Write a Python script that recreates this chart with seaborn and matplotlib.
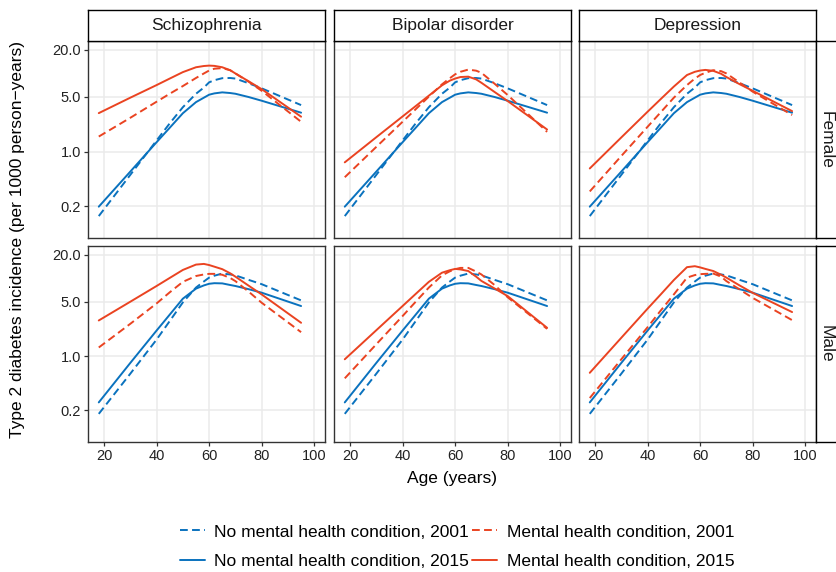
import numpy as np
import pandas as pd
import matplotlib
matplotlib.use("Agg")
import matplotlib.pyplot as plt
import seaborn as sns
from matplotlib.lines import Line2D
from matplotlib.ticker import FixedLocator, NullLocator, FixedFormatter

sns.set_theme(style="white")
plt.rcParams['font.family'] = ['Liberation Sans', 'DejaVu Sans']

# ---------------- data ----------------
ages = [18, 30, 40, 45, 50, 55, 58, 60, 62, 65, 68, 70, 75, 80, 95]
conditions = ["Schizophrenia", "Bipolar disorder", "Depression"]
sexes = ["Female", "Male"]
lab_nomh01 = "No mental health condition, 2001"
lab_nomh15 = "No mental health condition, 2015"
lab_mh01 = "Mental health condition, 2001"
lab_mh15 = "Mental health condition, 2015"

female_nomh_2001 = [0.150, 0.505, 1.39, 2.3, 3.7, 5.5, 6.6, 7.7, 8.2, 8.7, 8.75, 8.6, 7.5, 6.45, 3.94]
female_nomh_2015 = [0.198, 0.556, 1.32, 2.02, 3.1, 4.3, 4.9, 5.35, 5.56, 5.73, 5.62, 5.5, 5.0, 4.48, 3.15]
male_nomh_2001 = [0.181, 0.594, 1.63, 2.82, 4.9, 7.6, 9.1, 10.2, 10.8, 11.5, 11.2, 10.9, 9.55, 8.4, 5.2]
male_nomh_2015 = [0.254, 0.817, 2.13, 3.41, 5.47, 7.36, 8.1, 8.5, 8.65, 8.6, 8.2, 7.96, 7.25, 6.53, 4.4]

female_schiz_2001 = [1.56, 2.71, 4.35, 5.5, 6.9, 8.75, 10.0, 10.9, 11.5, 11.7, 11.0, 10.0, 7.85, 6.0, 2.41]
female_schiz_2015 = [3.11, 4.9, 7.1, 8.6, 10.4, 12.0, 12.45, 12.6, 12.5, 12.0, 11.0, 10.0, 7.95, 6.3, 2.8]
female_bip_2001 = [0.471, 1.15, 2.41, 3.49, 5.05, 7.26, 8.7, 9.75, 10.5, 11.2, 10.85, 10.2, 7.4, 5.3, 1.79]
female_bip_2015 = [0.73, 1.53, 2.82, 3.83, 5.2, 7.05, 8.1, 8.6, 9.0, 9.1, 8.4, 7.6, 5.8, 4.44, 1.92]
female_dep_2001 = [0.31, 0.88, 2.08, 3.19, 4.9, 7.1, 8.6, 9.55, 10.2, 11.0, 10.7, 10.0, 7.65, 5.85, 2.94]
female_dep_2015 = [0.61, 1.52, 3.24, 4.7, 6.8, 9.55, 10.5, 10.9, 11.1, 10.8, 9.9, 9.0, 7.3, 6.0, 3.3]

male_schiz_2001 = [1.29, 2.6, 4.75, 6.6, 9.0, 10.7, 11.2, 11.4, 11.4, 11.1, 10.1, 9.2, 6.75, 4.85, 2.03]
male_schiz_2015 = [2.87, 5.0, 7.96, 10.1, 12.8, 15.0, 15.3, 14.8, 14.1, 13.1, 11.6, 10.5, 8.05, 6.2, 2.68]
male_bip_2001 = [0.518, 1.42, 3.27, 5.0, 7.6, 10.9, 12.3, 13.1, 13.6, 13.6, 12.2, 11.2, 8.2, 5.7, 2.24]
male_bip_2015 = [0.91, 2.15, 4.4, 6.3, 9.0, 11.8, 12.7, 13.2, 13.0, 12.4, 10.5, 9.25, 7.4, 5.9, 2.31]
male_dep_2001 = [0.289, 0.91, 2.35, 3.85, 6.2, 10.2, 11.0, 11.3, 11.4, 11.5, 10.5, 9.2, 7.2, 5.6, 2.9]
male_dep_2015 = [0.61, 1.72, 4.07, 6.2, 9.5, 13.9, 14.3, 13.8, 13.2, 12.4, 11.1, 10.2, 8.1, 6.5, 3.68]

y_ticks = [0.2, 1.0, 5.0, 20.0]
y_tick_labels = ["0.2", "1.0", "5.0", "20.0"]
x_ticks = [20, 40, 60, 80, 100]
x_tick_labels = ["20", "40", "60", "80", "100"]

mh = {
    ("Female", "Schizophrenia"): (female_schiz_2001, female_schiz_2015),
    ("Female", "Bipolar disorder"): (female_bip_2001, female_bip_2015),
    ("Female", "Depression"): (female_dep_2001, female_dep_2015),
    ("Male", "Schizophrenia"): (male_schiz_2001, male_schiz_2015),
    ("Male", "Bipolar disorder"): (male_bip_2001, male_bip_2015),
    ("Male", "Depression"): (male_dep_2001, male_dep_2015),
}
nomh = {"Female": (female_nomh_2001, female_nomh_2015),
        "Male": (male_nomh_2001, male_nomh_2015)}

rows = []
for (sex, cond), (v01, v15) in mh.items():
    n01, n15 = nomh[sex]
    for lab, vals in [(lab_nomh01, n01), (lab_nomh15, n15), (lab_mh01, v01), (lab_mh15, v15)]:
        for a, v in zip(ages, vals):
            rows.append(dict(sex=sex, condition=cond, age=a, incidence=v, group=lab))
df = pd.DataFrame(rows)

BLUE = "#0A72BE"
RED = "#EA4321"
DASH = (4, 2.2)
palette = {lab_nomh01: BLUE, lab_nomh15: BLUE, lab_mh01: RED, lab_mh15: RED}
dashes = {lab_nomh01: DASH, lab_nomh15: "", lab_mh01: DASH, lab_mh15: ""}
order = [lab_nomh01, lab_nomh15, lab_mh01, lab_mh15]

# ---------------- layout ----------------
W, H = 837, 572
fig = plt.figure(figsize=(W / 100, H / 100), dpi=100)

def rect(x0, y0, x1, y1):
    return [x0 / W, 1 - y1 / H, (x1 - x0) / W, (y1 - y0) / H]

cols_x = [(88, 325), (334, 571), (579, 816)]
rows_y = [(41, 238), (246, 442)]
SPINE = "#333333"
TXT = "#222222"
GRID = "#EBEBEB"

for ri, sex in enumerate(sexes):
    for ci, cond in enumerate(conditions):
        x0, x1 = cols_x[ci]
        y0, y1 = rows_y[ri]
        ax = fig.add_axes(rect(x0, y0, x1, y1))
        sub = df[(df.sex == sex) & (df.condition == cond)]
        sns.lineplot(data=sub, x="age", y="incidence", hue="group", style="group",
                     hue_order=order, style_order=order, palette=palette, dashes=dashes,
                     estimator=None, sort=False, linewidth=1.4, legend=False, ax=ax)
        ax.set_yscale("log")
        ax.set_xlim(13.9, 104.1)
        ax.set_ylim(0.0787, 26.0)
        ax.yaxis.set_major_locator(FixedLocator(y_ticks))
        ax.yaxis.set_minor_locator(NullLocator())
        ax.xaxis.set_major_locator(FixedLocator(x_ticks))
        ax.xaxis.set_minor_locator(NullLocator())
        ax.grid(True, which="major", color=GRID, linewidth=1.1)
        ax.set_axisbelow(True)
        for s in ax.spines.values():
            s.set_color(SPINE)
            s.set_linewidth(1.0)
        ax.set_xlabel("")
        ax.set_ylabel("")
        ax.tick_params(axis="both", which="major", length=3, width=0.9, color=SPINE,
                       labelsize=10.5, labelcolor=TXT, pad=2,
                       bottom=(ri == 1), left=(ci == 0),
                       labelbottom=(ri == 1), labelleft=(ci == 0))
        if ci == 0:
            ax.yaxis.set_major_formatter(FixedFormatter(y_tick_labels))
        if ri == 1:
            ax.xaxis.set_major_formatter(FixedFormatter(x_tick_labels))

        if ri == 0:
            sa = fig.add_axes(rect(x0, 10, x1, 41))
            sa.set_xticks([]); sa.set_yticks([])
            sa.set_facecolor("white")
            for s in sa.spines.values():
                s.set_color("black"); s.set_linewidth(1.0)
            sa.text(0.5, 0.5, cond, ha="center", va="center", fontsize=12.5, color="#1a1a1a",
                    transform=sa.transAxes)
        if ci == 2:
            ra = fig.add_axes(rect(816, y0, 842, y1))
            ra.set_xticks([]); ra.set_yticks([])
            ra.set_facecolor("white")
            for s in ra.spines.values():
                s.set_color("black"); s.set_linewidth(1.0)
            fig.text(826 / W, 1 - (y0 + y1) / 2 / H, sex, ha="center", va="center",
                     rotation=-90, fontsize=12.5, color="#1a1a1a")

fig.text(18 / W, 1 - 240 / H, "Type 2 diabetes incidence (per 1000 person\u2212years)",
         rotation=90, ha="center", va="center", fontsize=12.5, color="black")
fig.text(452 / W, 1 - 479 / H, "Age (years)", ha="center", va="center",
         fontsize=12.5, color="black")

handles = [
    Line2D([], [], color=BLUE, lw=1.4, dashes=DASH),
    Line2D([], [], color=BLUE, lw=1.4),
    Line2D([], [], color=RED, lw=1.4, dashes=DASH),
    Line2D([], [], color=RED, lw=1.4),
]
leg = fig.legend(handles, [lab_nomh01, lab_nomh15, lab_mh01, lab_mh15], ncol=2,
                 loc="center", bbox_to_anchor=(457 / W, 1 - 546.5 / H), frameon=False,
                 fontsize=12.5, handlelength=1.45, handletextpad=0.55, columnspacing=0.15,
                 labelspacing=0.8)
for t in leg.get_texts():
    t.set_color("black")

fig.savefig("out.png", dpi=100)
